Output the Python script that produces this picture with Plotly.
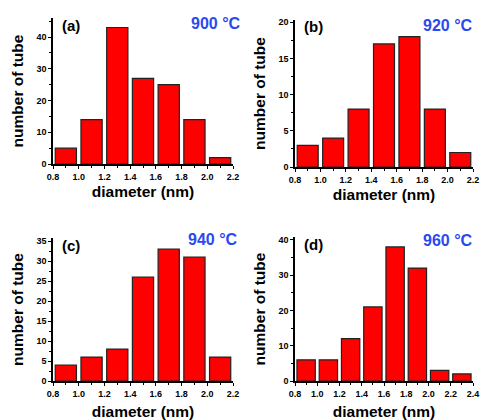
import plotly.graph_objects as go

# ---- data ----
centers_7 = [0.9, 1.1, 1.3, 1.5, 1.7, 1.9, 2.1]
centers_8 = [0.9, 1.1, 1.3, 1.5, 1.7, 1.9, 2.1, 2.3]
counts_a = [5, 14, 43, 27, 25, 14, 2]
counts_b = [3, 4, 8, 17, 18, 8, 2]
counts_c = [4, 6, 8, 26, 33, 31, 6]
counts_d = [6, 6, 12, 21, 38, 32, 3, 2]
panel_labels = ["(a)", "(b)", "(c)", "(d)"]
temps = ["900 °C", "920 °C", "940 °C", "960 °C"]
x_title = "diameter (nm)"
y_title = "number of tube"

W, H = 481, 420

def px_x(p):
    return p / W

def px_y(p):
    return 1 - p / H

# panel geometry in pixels: (left, right, top, bottom)
geom = [
    (53, 233, 18, 164),
    (295, 473, 20, 167),
    (53, 233, 238, 381),
    (295, 473, 237, 381),
]
temp_pos = [(243, 23), (475, 25), (240, 239), (475, 240)]
xranges = [[0.8, 2.2], [0.8, 2.2], [0.8, 2.2], [0.8, 2.4]]
yranges = [[0, 46], [0, 20.3], [0, 35.8], [0, 40.8]]
ydticks = [10, 5, 5, 10]
x_standoffs = [6, 6, 13, 13]
series = [(centers_7, counts_a), (centers_7, counts_b), (centers_7, counts_c), (centers_8, counts_d)]

fig = go.Figure()
font_family = "Liberation Sans, Arial, sans-serif"
layout = dict(
    width=W, height=H,
    margin=dict(l=0, r=0, t=0, b=0),
    paper_bgcolor="white", plot_bgcolor="white",
    showlegend=False,
    font=dict(family=font_family, color="black"),
    annotations=[],
)
title_font = dict(size=15.5, family=font_family, weight="bold", color="black")

for i, ((xc, yc), g) in enumerate(zip(series, geom)):
    n = i + 1
    xa = "x" if n == 1 else f"x{n}"
    ya = "y" if n == 1 else f"y{n}"
    fig.add_trace(go.Bar(
        x=xc, y=yc, width=0.165, xaxis=xa, yaxis=ya,
        marker=dict(color="#ff0000", line=dict(color="#222222", width=1.2)),
        hoverinfo="x+y",
    ))
    l, r, t, b = g
    axis_common = dict(
        showline=True, linecolor="black", linewidth=1.5, mirror=False,
        ticks="outside", ticklen=3, tickwidth=1.2, tickcolor="black",
        showgrid=False, zeroline=False,
        tickfont=dict(size=9, family=font_family, weight="bold"),
        fixedrange=True, automargin=False,
    )
    layout["xaxis" if n == 1 else f"xaxis{n}"] = dict(
        axis_common, domain=[px_x(l), px_x(r)], range=xranges[i],
        dtick=0.2, tick0=0.8, tickformat=".1f", anchor=ya,
        minor=dict(ticks="outside", ticklen=2, dtick=0.1, tickcolor="black", tickwidth=1),
        title=dict(text=x_title, font=title_font, standoff=x_standoffs[i]),
    )
    layout["yaxis" if n == 1 else f"yaxis{n}"] = dict(
        axis_common, domain=[px_y(b), px_y(t)], range=yranges[i],
        dtick=ydticks[i], anchor=xa,
        minor=dict(ticks="outside", ticklen=2, dtick=ydticks[i] / 2, tickcolor="black", tickwidth=1),
        title=dict(text=y_title, font=title_font, standoff=9),
    )
    # panel label
    layout["annotations"].append(dict(
        text=panel_labels[i], xref="paper", yref="paper",
        x=px_x(l + 7), y=px_y(t + 7), xanchor="left", yanchor="middle",
        showarrow=False, font=dict(size=15, family=font_family, weight="bold", color="black"),
    ))
    # temperature
    tx, ty = temp_pos[i]
    layout["annotations"].append(dict(
        text=temps[i], xref="paper", yref="paper",
        x=px_x(tx), y=px_y(ty), xanchor="right", yanchor="middle",
        showarrow=False, font=dict(size=16, family=font_family, weight="bold", color="#2a4af0"),
    ))

fig.update_layout(**layout)
fig.write_html(
    "out.html",
    config={"displayModeBar": False},
    post_script="document.body.style.margin='0';document.body.style.overflow='hidden';",
)
